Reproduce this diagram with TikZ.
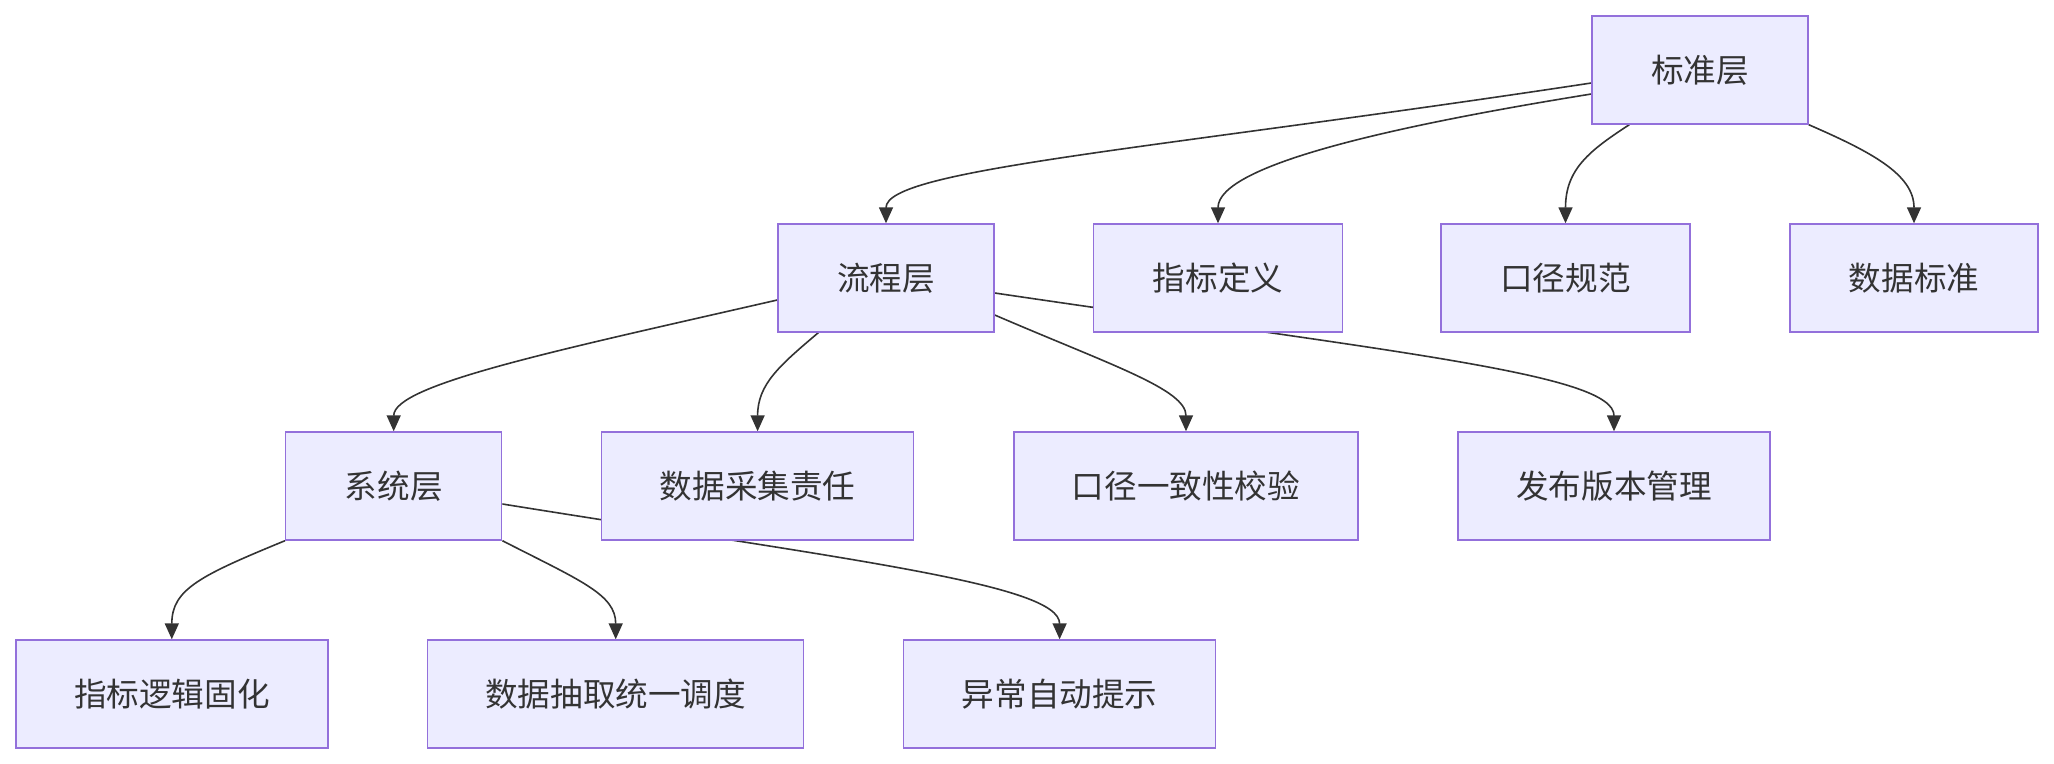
\documentclass[tikz,border=0pt]{standalone}
\usepackage{fontspec}
\newfontfamily\cjk{Noto Sans CJK SC}
\usepackage{xcolor}
\usepackage{tikz}
\usetikzlibrary{arrows.meta,calc,backgrounds}
\definecolor{boxfill}{HTML}{ECECFF}
\definecolor{boxline}{HTML}{9370DB}
\definecolor{ink}{HTML}{333333}

\begin{document}
\begin{tikzpicture}[x=0.5pt,y=-0.5pt,
          box/.style={draw=boxline,fill=boxfill,line width=0.7pt,
                      minimum height=54pt,inner sep=0pt,text=ink,
                      font=\cjk\fontsize{16.3}{20}\selectfont},
          edge/.style={draw=ink,line width=0.8pt,
                       -{Triangle[length=8pt,width=7pt]}}]
        \useasboundingbox (0,0) rectangle (2054,764);
        % level 1
        \node[box,minimum width=108pt] (std) at (1700,70) {标准层};
        % level 2
        \node[box,minimum width=108pt]   (flow) at (886,278)    {流程层};
        \node[box,minimum width=124.5pt] (ind)  at (1218,278)   {指标定义};
        \node[box,minimum width=124.5pt] (kj)   at (1565.5,278) {口径规范};
        \node[box,minimum width=124pt]   (dstd) at (1914,278)   {数据标准};
        % level 3
        \node[box,minimum width=108pt] (sys)     at (393.7,486) {系统层};
        \node[box,minimum width=156pt] (collect) at (757.6,486) {数据采集责任};
        \node[box,minimum width=172pt] (check)   at (1186,486)  {口径一致性校验};
        \node[box,minimum width=156pt] (pub)     at (1614,486)  {发布版本管理};
        % level 4
        \node[box,minimum width=156pt] (logic) at (171.8,694)  {指标逻辑固化};
        \node[box,minimum width=188pt] (sched) at (615.7,694)  {数据抽取统一调度};
        \node[box,minimum width=156pt] (alert) at (1059.6,694) {异常自动提示};
        % connectors
        \begin{scope}[on background layer]
          \draw[edge] ($(std.west)+(0,13)$) .. controls +(-442,67) and +(0,-54) .. (flow.north);
          \draw[edge] ($(std.west)+(0,24)$) .. controls +(-192,31) and +(0,-59) .. (ind.north);
          \draw[edge] ($(std.south west)+(38,0)$) .. controls +(-40,26) and +(0,-54) .. (kj.north);
          \draw[edge] (std.south east) .. controls +(62,27) and +(0,-49) .. (dstd.north);
          \draw[edge] ($(flow.west)+(0,22)$) .. controls +(-218,50) and +(0,-47) .. (sys.north);
          \draw[edge] ($(flow.south west)+(41,0)$) .. controls +(-39,33) and +(0,-47) .. (collect.north);
          \draw[edge] ($(flow.east)+(0,37)$) .. controls +(116,50) and +(0,-42) .. (check.north);
          \draw[edge] ($(flow.east)+(0,15)$) .. controls +(406,60) and +(0,-57) .. (pub.north);
          \draw[edge] (sys.south west) .. controls +(-85,35) and +(0,-50) .. (logic.north);
          \draw[edge] (sys.south east) .. controls +(78,40) and +(0,-45) .. (sched.north);
          \draw[edge] ($(sys.east)+(0,18)$) .. controls +(348,56) and +(0,-55) .. (alert.north);
        \end{scope}
      \end{tikzpicture}
\end{document}
